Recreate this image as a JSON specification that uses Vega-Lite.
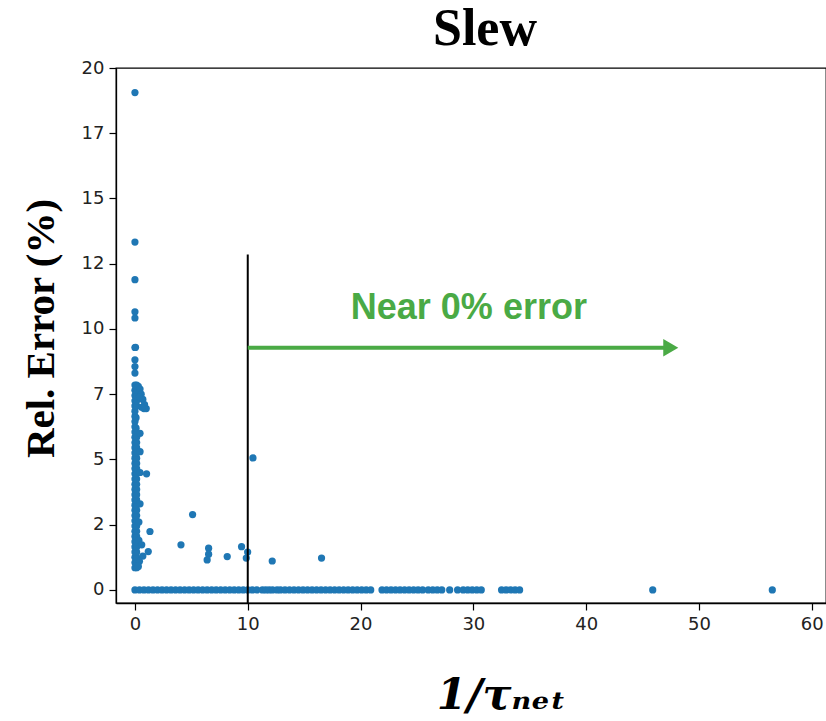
{
  "$schema": "https://vega.github.io/schema/vega-lite/v6.json",
  "width": 710,
  "height": 535,
  "autosize": {"type": "none"},
  "padding": {"left": 116, "top": 68, "right": 0, "bottom": 118},
  "background": "white",
  "config": {
    "view": {"stroke": "black", "strokeWidth": 1.3},
    "axis": {
      "grid": false,
      "domainColor": "black",
      "domainWidth": 1.3,
      "tickColor": "black",
      "tickSize": 7,
      "tickWidth": 1.2,
      "labelFont": "DejaVu Sans",
      "labelFontSize": 18,
      "labelColor": "#222222",
      "labelPadding": 5
    }
  },
  "title": {
    "text": "Slew",
    "font": "Liberation Serif",
    "fontWeight": "bold",
    "fontSize": 52,
    "color": "black",
    "anchor": "middle",
    "dx": 14,
    "offset": 3
  },
  "layer": [
    {
      "data": {
        "values": [
          {"x": 0, "y": 0}, {"x": 0.4, "y": 0}, {"x": 0.8, "y": 0}, {"x": 1.2, "y": 0}, {"x": 1.6, "y": 0}, {"x": 2.0, "y": 0}, {"x": 2.4, "y": 0}, {"x": 2.8, "y": 0}, {"x": 3.2, "y": 0}, {"x": 3.6, "y": 0}, {"x": 4.0, "y": 0}, {"x": 4.4, "y": 0}, {"x": 4.8, "y": 0}, {"x": 5.2, "y": 0}, {"x": 5.6, "y": 0}, {"x": 6.0, "y": 0}, {"x": 6.4, "y": 0}, {"x": 6.8, "y": 0}, {"x": 7.2, "y": 0}, {"x": 7.6, "y": 0}, {"x": 8.0, "y": 0}, {"x": 8.4, "y": 0}, {"x": 8.8, "y": 0}, {"x": 9.2, "y": 0}, {"x": 9.6, "y": 0}, {"x": 10.0, "y": 0}, {"x": 10.4, "y": 0}, {"x": 10.8, "y": 0},
          {"x": 11.3, "y": 0}, {"x": 11.6, "y": 0}, {"x": 11.9, "y": 0}, {"x": 12.2, "y": 0}, {"x": 12.6, "y": 0}, {"x": 12.9, "y": 0},
          {"x": 13.3, "y": 0}, {"x": 13.7, "y": 0}, {"x": 14.1, "y": 0}, {"x": 14.5, "y": 0}, {"x": 14.9, "y": 0}, {"x": 15.3, "y": 0}, {"x": 15.7, "y": 0}, {"x": 16.1, "y": 0}, {"x": 16.5, "y": 0}, {"x": 16.9, "y": 0}, {"x": 17.3, "y": 0}, {"x": 17.7, "y": 0}, {"x": 18.1, "y": 0}, {"x": 18.5, "y": 0}, {"x": 18.9, "y": 0}, {"x": 19.3, "y": 0}, {"x": 19.7, "y": 0}, {"x": 20.1, "y": 0}, {"x": 20.5, "y": 0}, {"x": 20.9, "y": 0},
          {"x": 21.9, "y": 0}, {"x": 22.3, "y": 0}, {"x": 22.7, "y": 0}, {"x": 23.1, "y": 0}, {"x": 23.5, "y": 0}, {"x": 23.9, "y": 0}, {"x": 24.3, "y": 0}, {"x": 24.7, "y": 0}, {"x": 25.1, "y": 0}, {"x": 25.5, "y": 0},
          {"x": 26.0, "y": 0}, {"x": 26.4, "y": 0}, {"x": 26.8, "y": 0}, {"x": 27.2, "y": 0}, {"x": 27.9, "y": 0}, {"x": 28.6, "y": 0},
          {"x": 29.1, "y": 0}, {"x": 29.5, "y": 0}, {"x": 29.9, "y": 0}, {"x": 30.3, "y": 0}, {"x": 30.7, "y": 0},
          {"x": 32.5, "y": 0}, {"x": 32.9, "y": 0}, {"x": 33.3, "y": 0}, {"x": 33.7, "y": 0}, {"x": 34.1, "y": 0}, {"x": 45.9, "y": 0}, {"x": 56.5, "y": 0},
          {"x": 0.0, "y": 0.85}, {"x": 0.0, "y": 1.05}, {"x": 0.0, "y": 1.25}, {"x": 0.0, "y": 1.45}, {"x": 0.0, "y": 1.65}, {"x": 0.0, "y": 1.85}, {"x": 0.0, "y": 2.05}, {"x": 0.0, "y": 2.25}, {"x": 0.0, "y": 2.45}, {"x": 0.0, "y": 2.65}, {"x": 0.0, "y": 2.85}, {"x": 0.0, "y": 3.05}, {"x": 0.0, "y": 3.25}, {"x": 0.0, "y": 3.45}, {"x": 0.0, "y": 3.65}, {"x": 0.0, "y": 3.85}, {"x": 0.0, "y": 4.05}, {"x": 0.0, "y": 4.25}, {"x": 0.0, "y": 4.45}, {"x": 0.0, "y": 4.65}, {"x": 0.0, "y": 4.85}, {"x": 0.0, "y": 5.05}, {"x": 0.0, "y": 5.25}, {"x": 0.0, "y": 5.45}, {"x": 0.0, "y": 5.65}, {"x": 0.0, "y": 5.85}, {"x": 0.0, "y": 6.05}, {"x": 0.0, "y": 6.25}, {"x": 0.0, "y": 6.45}, {"x": 0.0, "y": 6.65}, {"x": 0.0, "y": 6.85}, {"x": 0.0, "y": 7.05}, {"x": 0.0, "y": 7.25}, {"x": 0.0, "y": 7.45}, {"x": 0.0, "y": 7.65}, {"x": 0.0, "y": 7.85},
          {"x": 0.15, "y": 0.85}, {"x": 0.15, "y": 1.05}, {"x": 0.15, "y": 1.25}, {"x": 0.15, "y": 1.45}, {"x": 0.15, "y": 1.65}, {"x": 0.15, "y": 1.85}, {"x": 0.15, "y": 2.05}, {"x": 0.15, "y": 2.25}, {"x": 0.15, "y": 2.45}, {"x": 0.15, "y": 2.65}, {"x": 0.15, "y": 2.85}, {"x": 0.15, "y": 3.05}, {"x": 0.15, "y": 3.25}, {"x": 0.15, "y": 3.45}, {"x": 0.15, "y": 3.65}, {"x": 0.15, "y": 3.85}, {"x": 0.15, "y": 4.05}, {"x": 0.15, "y": 4.25}, {"x": 0.15, "y": 4.45}, {"x": 0.15, "y": 4.65}, {"x": 0.15, "y": 4.85}, {"x": 0.15, "y": 5.05}, {"x": 0.15, "y": 5.25}, {"x": 0.15, "y": 5.45}, {"x": 0.15, "y": 5.65}, {"x": 0.15, "y": 5.85}, {"x": 0.1, "y": 6.2}, {"x": 0.1, "y": 6.6}, {"x": 0.15, "y": 7.05}, {"x": 0.15, "y": 7.25}, {"x": 0.15, "y": 7.45}, {"x": 0.15, "y": 7.65}, {"x": 0.15, "y": 7.85},
          {"x": 0.3, "y": 7.8}, {"x": 0.45, "y": 7.7}, {"x": 0.55, "y": 7.5}, {"x": 0.7, "y": 7.3}, {"x": 0.85, "y": 7.1}, {"x": 1.0, "y": 6.95}, {"x": 0.8, "y": 6.95}, {"x": 0.4, "y": 7.4}, {"x": 0.6, "y": 7.0},
          {"x": 0.45, "y": 6.0}, {"x": 0.45, "y": 5.3}, {"x": 0.45, "y": 4.5}, {"x": 1.03, "y": 4.45}, {"x": 0.45, "y": 3.3}, {"x": 0.35, "y": 2.6}, {"x": 0.35, "y": 1.9}, {"x": 1.33, "y": 2.24}, {"x": 0.6, "y": 1.73}, {"x": 1.18, "y": 1.47}, {"x": 0.7, "y": 1.3}, {"x": 0.4, "y": 1.1}, {"x": 0.3, "y": 0.9},
          {"x": 0.0, "y": 8.31}, {"x": 0.0, "y": 8.56}, {"x": 0.0, "y": 8.82}, {"x": 0.0, "y": 9.29}, {"x": 0.05, "y": 9.3}, {"x": 0.0, "y": 10.42}, {"x": 0.0, "y": 10.66}, {"x": 0.0, "y": 11.89}, {"x": 0.0, "y": 13.33}, {"x": 0.0, "y": 19.06},
          {"x": 5.11, "y": 2.89}, {"x": 4.08, "y": 1.73}, {"x": 6.53, "y": 1.6}, {"x": 6.53, "y": 1.37}, {"x": 6.4, "y": 1.15}, {"x": 8.18, "y": 1.28}, {"x": 9.45, "y": 1.66}, {"x": 9.99, "y": 1.45}, {"x": 9.87, "y": 1.22}, {"x": 12.17, "y": 1.11}, {"x": 16.54, "y": 1.22}, {"x": 10.46, "y": 5.06}
        ]
      },
      "mark": {"type": "circle", "size": 52, "color": "#1f77b4", "opacity": 1},
      "encoding": {
        "x": {
          "field": "x", "type": "quantitative",
          "scale": {"domain": [-1.68, 61.26], "nice": false, "zero": false},
          "axis": {
            "values": [0, 10, 20, 30, 40, 50, 60],
            "title": "1/τₙₑₜ",
            "titleFont": "DejaVu Serif",
            "titleFontWeight": "bold",
            "titleFontStyle": "italic",
            "titleFontSize": 43,
            "titleColor": "black",
            "titleX": 385,
            "titleY": 92,
            "titleAlign": "center",
            "titleBaseline": "middle"
          }
        },
        "y": {
          "field": "y", "type": "quantitative",
          "scale": {"domain": [-0.5, 20], "nice": false, "zero": false},
          "axis": {
            "values": [0, 2.5, 5, 7.5, 10, 12.5, 15, 17.5, 20],
            "labelExpr": "floor(datum.value)",
            "title": "Rel. Error (%)",
            "titleFont": "Liberation Serif",
            "titleFontWeight": "bold",
            "titleFontSize": 41,
            "titleColor": "black",
            "titleAngle": -90,
            "titleX": -75,
            "titleY": 260,
            "titleAlign": "center",
            "titleBaseline": "middle"
          }
        }
      }
    },
    {
      "data": {"values": [{"x": 10, "y": 12.85, "y2": -0.5}]},
      "mark": {"type": "rule", "color": "black", "strokeWidth": 2},
      "encoding": {
        "x": {"field": "x", "type": "quantitative"},
        "y": {"field": "y", "type": "quantitative"},
        "y2": {"field": "y2"}
      }
    },
    {
      "data": {"values": [{"x": 10, "x2": 47.0, "y": 9.28}]},
      "mark": {"type": "rule", "color": "#4aaa45", "strokeWidth": 4},
      "encoding": {
        "x": {"field": "x", "type": "quantitative"},
        "x2": {"field": "x2"},
        "y": {"field": "y", "type": "quantitative"}
      }
    },
    {
      "data": {"values": [{"x": 47.5, "y": 9.28}]},
      "mark": {"type": "point", "shape": "triangle-right", "filled": true, "size": 300, "color": "#4aaa45", "opacity": 1},
      "encoding": {
        "x": {"field": "x", "type": "quantitative"},
        "y": {"field": "y", "type": "quantitative"}
      }
    },
    {
      "data": {"values": [{"x": 29.6, "y": 10.81, "label": "Near 0% error"}]},
      "mark": {"type": "text", "font": "Liberation Sans", "fontWeight": "bold", "fontSize": 36, "color": "#4aaa45", "align": "center", "baseline": "middle"},
      "encoding": {
        "x": {"field": "x", "type": "quantitative"},
        "y": {"field": "y", "type": "quantitative"},
        "text": {"field": "label"}
      }
    }
  ]
}
